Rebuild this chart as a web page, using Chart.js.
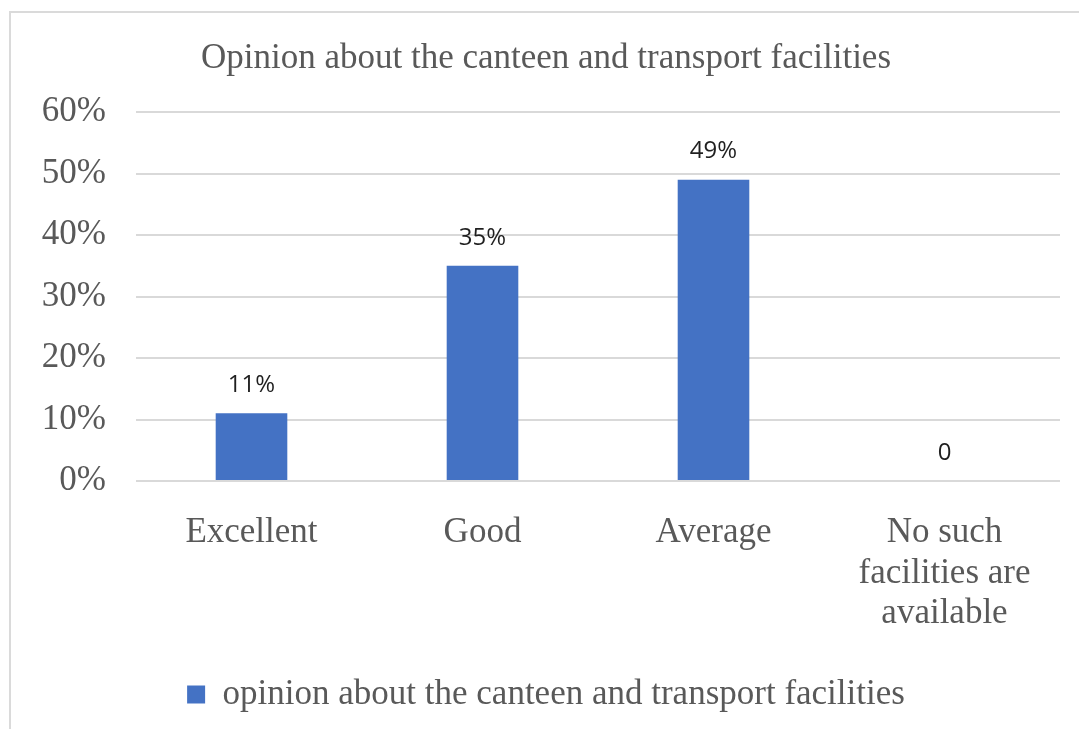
<!DOCTYPE html>
<html>
<head>
<meta charset="utf-8">
<script src="https://cdn.jsdelivr.net/npm/chart.js@4"></script>
<style>
  html, body { margin: 0; padding: 0; background: #fff; overflow: hidden; }
  #frame {
    position: absolute; left: 9px; top: 11px;
    width: 1080px; height: 730px;
    border: 2px solid #dadada; box-sizing: border-box;
  }
  #wrap { position: absolute; left: 0; top: 0; width: 1079px; height: 729px; }
</style>
</head>
<body>
<div id="frame"></div>
<div id="wrap"><canvas id="chart-opinion"></canvas></div>
<script>
const categories = ['Excellent', 'Good', 'Average', ['No such', 'facilities are', 'available']];
const opinionValues = [0.11, 0.35, 0.49, 0];
const yTicks = [0, 0.1, 0.2, 0.3, 0.4, 0.5, 0.6];
const seriesName = 'opinion about the canteen and transport facilities';
const chartTitle = 'Opinion about the canteen and transport facilities';

const serif = `'Liberation Serif', 'Times New Roman', serif`;
const grey = `#595959`;

// value labels above each bar, Excel style ("0" for an empty bar)
const barLabels = {
  id: `barLabels`,
  afterDatasetsDraw(chart) {
    const { ctx } = chart;
    const meta = chart.getDatasetMeta(0);
    ctx.save();
    ctx.font = `24px 'Open Sans', sans-serif`;
    ctx.fillStyle = `#1f1f1f`;
    ctx.textAlign = `center`;
    ctx.textBaseline = `middle`;
    meta.data.forEach((bar, i) => {
      const v = opinionValues[i];
      const text = v === 0 ? `0` : Math.round(v * 100) + `%`;
      ctx.fillText(text, bar.x, bar.y - 28);
    });
    ctx.restore();
  }
};

const opinion = document.getElementById('chart-opinion');
new Chart(opinion, {
  type: `bar`,
  data: {
    labels: categories,
    datasets: [
      {
        label: seriesName,
        data: opinionValues,
        backgroundColor: `#4472C4`,
        categoryPercentage: 1,
        barPercentage: 0.31
      }
    ]
  },
  options: {
    responsive: true,
    maintainAspectRatio: false,
    animation: false,
    layout: { padding: { top: 18, left: 32, right: 19, bottom: 7 } },
    plugins: {
      title: {
        display: true,
        text: chartTitle,
        color: grey,
        font: { family: serif, size: 35, weight: `normal` },
        padding: { top: 20, bottom: 32 }
      },
      legend: {
        position: `bottom`,
        labels: {
          color: grey,
          font: { family: serif, size: 35 },
          boxWidth: 18,
          boxHeight: 18,
          padding: 12
        }
      },
      tooltip: { enabled: false }
    },
    scales: {
      x: {
        grid: { display: false, drawTicks: false },
        border: { display: false },
        ticks: {
          color: grey,
          font: { family: serif, size: 35, lineHeight: 1.15 },
          padding: 32,
          maxRotation: 0,
          autoSkip: false
        },
        afterFit: (scale) => { scale.height = 184; }
      },
      y: {
        min: 0,
        max: 0.6,
        afterBuildTicks: (scale) => { scale.ticks = yTicks.map(v => ({ value: v })); },
        grid: { color: `#d9d9d9`, lineWidth: 2, drawTicks: false },
        border: { display: false },
        ticks: {
          color: grey,
          font: { family: serif, size: 35 },
          padding: 30,
          callback: (v) => Math.round(v * 100) + `%`
        },
        afterFit: (scale) => { scale.width = 104; }
      }
    }
  },
  plugins: [barLabels]
});
</script>
</body>
</html>
